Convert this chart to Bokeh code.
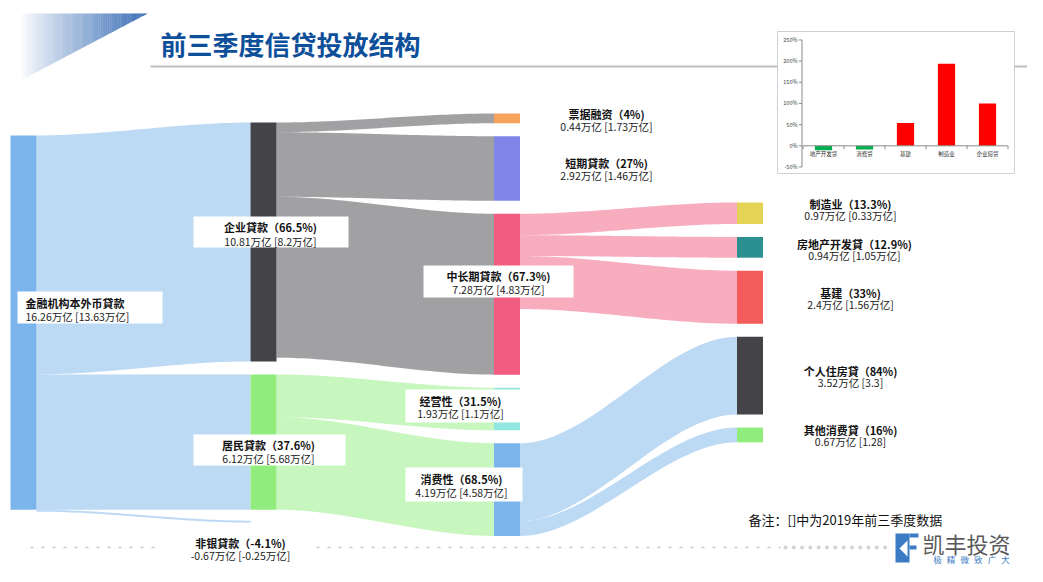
import numpy as np
from bokeh.plotting import figure
from bokeh.models import Range1d
from bokeh.core.properties import value
from bokeh.embed import file_html
from bokeh.resources import INLINE

# ---------------- data ----------------
title = "前三季度信贷投放结构"
note = "备注：[]中为2019年前三季度数据"

src_name = "金融机构本外币貸款"
src_amt = 16.26
src_prev = 13.63

lvl1_names = ["企业貸款", "居民貸款"]
lvl1_amt = [10.81, 6.12]
lvl1_prev = [8.2, 5.68]
lvl1_pct = ["66.5%", "37.6%"]

nonbank_name = "非银貸款"
nonbank_amt = -0.67
nonbank_prev = -0.25
nonbank_pct = "-4.1%"

corp_names = ["票据融资", "短期貸款", "中长期貸款"]
corp_amt = [0.44, 2.92, 7.28]
corp_prev = [1.73, 1.46, 4.83]
corp_pct = ["4%", "27%", "67.3%"]

hh_names = ["经营性", "消费性"]
hh_amt = [1.93, 4.19]
hh_prev = [1.1, 4.58]
hh_pct = ["31.5%", "68.5%"]

mlt_names = ["制造业", "房地产开发貸", "基建"]
mlt_amt = [0.97, 0.94, 2.4]
mlt_prev = [0.33, 1.05, 1.56]
mlt_pct = ["13.3%", "12.9%", "33%"]

cons_names = ["个人住房貸", "其他消费貸"]
cons_amt = [3.52, 0.67]
cons_prev = [3.3, 1.28]
cons_pct = ["84%", "16%"]

growth_cats = ["地产开发贷", "消费贷", "基建", "制造业", "企业短贷"]
growth_vals = [-10.5, -8.5, 53.8, 193.9, 100.0]
growth_ticks = [-50, 0, 50, 100, 150, 200, 250]
growth_tick_labels = ["-50%", "0%", "50%", "100%", "150%", "200%", "250%"]

logo_name = "凯丰投资"
logo_motto = ["极", "精", "微", "致", "广", "大"]

node_colors = {
    src_name: "#7cb5ec", "企业貸款": "#434348", "居民貸款": "#90ed7d",
    "票据融资": "#f7a35c", "短期貸款": "#8085e9", "中长期貸款": "#f15c80",
    "制造业": "#e4d354", "房地产开发貸": "#2b908f", "基建": "#f45b5b",
    "经营性": "#91e8e1", "消费性": "#7cb5ec",
    "个人住房貸": "#434348", "其他消费貸": "#90ed7d",
}

# ---------------- figure ----------------
W, H = 1027, 566
OX, OY = 0, 0
p = figure(width=W, height=H, x_range=Range1d(OX, OX + W), y_range=Range1d(OY + H, OY),
           output_backend="svg", toolbar_location=None,
           x_axis_type=None, y_axis_type=None, min_border=0)
p.outline_line_color = None
p.background_fill_color = "white"
p.border_fill_color = "white"
p.xgrid.visible = False
p.ygrid.visible = False

FONT = value("Noto Sans CJK SC")

# ---- header decoration ----
xs_strips, ys_strips, cols = [], [], []
N = 70
x_l, x_r, y_t, y_b = 20.0, 147.0, 13.0, 80.0
edges = np.linspace(x_l, x_r, N + 1)
for i in range(N):
    xa, xb = edges[i], edges[i + 1]
    ya = y_t + (x_r - xa) / (x_r - x_l) * (y_b - y_t)
    yb = y_t + (x_r - xb) / (x_r - x_l) * (y_b - y_t)
    xs_strips.append([xa, xb + 0.3, xb + 0.3, xa])
    ys_strips.append([y_t, y_t, yb, ya])
    f = ((xa + xb) / 2 - x_l) / (x_r - x_l)
    f = f ** 0.9
    r = int(255 + (58 - 255) * f)
    g = int(255 + (110 - 255) * f)
    b = int(255 + (182 - 255) * f)
    cols.append("#%02x%02x%02x" % (r, g, b))
p.patches(xs=xs_strips, ys=ys_strips, fill_color=cols, line_color=None)

p.line(x=[150, 1030], y=[66, 66], line_color="#bfbfbf", line_width=2)
p.text(x=[160], y=[43], text=[title], text_font=FONT, text_font_size="26px",
       text_font_style="bold", text_color="#0e4f9a", text_align="left", text_baseline="middle")

# ---------------- sankey layout ----------------
S = 22.1        # px per 万亿
PAD = 13
NW = 26
col_x = [10, 250, 493.5, 736.5]
nodes = {}

def add_col(names, vals, x, top):
    y = top
    for n, v in zip(names, vals):
        nodes[n] = dict(x=x, top=y, h=v * S, out=0.0, inn=0.0)
        y += v * S + PAD

add_col([src_name], [sum(lvl1_amt)], col_x[0], 135)
add_col(lvl1_names, lvl1_amt, col_x[1], 122)
add_col(corp_names + hh_names, corp_amt + hh_amt, col_x[2], 113)
add_col(mlt_names + cons_names, mlt_amt + cons_amt, col_x[3], 202)

links = []
for n, v in zip(lvl1_names, lvl1_amt):
    links.append((src_name, n, v))
for n, v in zip(corp_names, corp_amt):
    links.append(("企业貸款", n, v))
for n, v in zip(hh_names, hh_amt):
    links.append(("居民貸款", n, v))
for n, v in zip(mlt_names, mlt_amt):
    links.append(("中长期貸款", n, v))
for n, v in zip(cons_names, cons_amt):
    links.append(("消费性", n, v))

t = np.linspace(0, 1, 50)

def bez(x0, y0, x1, y1):
    c = (x1 - x0) * 0.33
    px = [x0, x0 + c, x1 - c, x1]
    py = [y0, y0, y1, y1]
    bx = (1 - t) ** 3 * px[0] + 3 * (1 - t) ** 2 * t * px[1] + 3 * (1 - t) * t ** 2 * px[2] + t ** 3 * px[3]
    by = (1 - t) ** 3 * py[0] + 3 * (1 - t) ** 2 * t * py[1] + 3 * (1 - t) * t ** 2 * py[2] + t ** 3 * py[3]
    return bx, by

def band(x0, y0a, y0b, x1, y1a, y1b):
    tx, ty = bez(x0, y0a, x1, y1a)
    bx, by = bez(x0, y0b, x1, y1b)
    return list(tx) + list(bx[::-1]), list(ty) + list(by[::-1])

lxs, lys, lcols = [], [], []
for a, b, v in links:
    na, nb = nodes[a], nodes[b]
    w = v * S
    y0 = na["top"] + na["out"]
    y1 = nb["top"] + nb["inn"]
    na["out"] += w
    nb["inn"] += w
    xx, yy = band(na["x"] + NW, y0, y0 + w, nb["x"], y1, y1 + w)
    lxs.append(xx); lys.append(yy); lcols.append(node_colors[a])

# non-bank (negative) link, drawn as a thin band
ns = nodes[src_name]
y0 = ns["top"] + ns["out"]
nb_y = nodes["居民貸款"]["top"] + nodes["居民貸款"]["h"] + 11
xx, yy = band(ns["x"] + NW, y0, y0 + 2, col_x[1], nb_y, nb_y + 2)
lxs.append(xx); lys.append(yy); lcols.append(node_colors[src_name])

p.patches(xs=lxs, ys=lys, fill_color=lcols, fill_alpha=0.5, line_color=None)

nn = list(nodes.keys())
p.quad(left=[nodes[n]["x"] for n in nn], right=[nodes[n]["x"] + NW for n in nn],
       top=[nodes[n]["top"] for n in nn], bottom=[nodes[n]["top"] + nodes[n]["h"] for n in nn],
       fill_color=[node_colors[n] for n in nn], line_color=None)

# ---------------- labels ----------------
def fmt(v):
    return ("%g" % v)

labels = []  # (line1, line2, cx, y1, y2, align, box)
labels.append((src_name, f"{fmt(src_amt)}万亿 [{fmt(src_prev)}万亿]", 25, 302.5, 315.5, "left", (17, 162, 291, 323)))
lvl1_pos = [(270, 226.5, 240.5, (193, 348, 216, 247)), (268, 444.5, 458, (193, 345, 434, 465))]
for n, a, pv, pc, pos in zip(lvl1_names, lvl1_amt, lvl1_prev, lvl1_pct, lvl1_pos):
    labels.append((f"{n}（{pc})", f"{fmt(a)}万亿 [{fmt(pv)}万亿]", pos[0], pos[1], pos[2], "center", pos[3]))
labels.append((f"{nonbank_name}（{nonbank_pct})", f"{fmt(nonbank_amt)}万亿 [{fmt(nonbank_prev)}万亿]", 240, 542.5, 555, "center", None))
corp_pos = [(606, 113, 126, None), (606, 162, 175, None), (498, 275.5, 289, (423, 573, 265, 297))]
for n, a, pv, pc, pos in zip(corp_names, corp_amt, corp_prev, corp_pct, corp_pos):
    labels.append((f"{n}（{pc})", f"{fmt(a)}万亿 [{fmt(pv)}万亿]", pos[0], pos[1], pos[2], "center", pos[3]))
hh_pos = [(460, 400, 413, (405, 520, 389, 422)), (461, 478, 491.5, (405, 522, 467, 501))]
for n, a, pv, pc, pos in zip(hh_names, hh_amt, hh_prev, hh_pct, hh_pos):
    labels.append((f"{n}（{pc})", f"{fmt(a)}万亿 [{fmt(pv)}万亿]", pos[0], pos[1], pos[2], "center", pos[3]))
mlt_pos = [(850, 203, 215), (854, 243, 255), (850, 292, 304)]
for n, a, pv, pc, pos in zip(mlt_names, mlt_amt, mlt_prev, mlt_pct, mlt_pos):
    labels.append((f"{n}（{pc})", f"{fmt(a)}万亿 [{fmt(pv)}万亿]", pos[0], pos[1], pos[2], "center", None))
cons_pos = [(850, 370, 382), (850, 429, 441)]
for n, a, pv, pc, pos in zip(cons_names, cons_amt, cons_prev, cons_pct, cons_pos):
    labels.append((f"{n}（{pc})", f"{fmt(a)}万亿 [{fmt(pv)}]", pos[0], pos[1], pos[2], "center", None))

boxes = [l[6] for l in labels if l[6] is not None]
p.quad(left=[b[0] for b in boxes], right=[b[1] for b in boxes], bottom=[b[3] for b in boxes],
       top=[b[2] for b in boxes], fill_color="white", line_color=None)

for align in ("left", "center"):
    sub = [l for l in labels if l[5] == align]
    p.text(x=[l[2] for l in sub], y=[l[3] for l in sub], text=[l[0] for l in sub],
           text_font=FONT, text_font_size="11px", text_font_style="bold", text_color="#111111",
           text_align=align, text_baseline="middle")
    p.text(x=[l[2] for l in sub], y=[l[4] for l in sub], text=[l[1] for l in sub],
           text_font=FONT, text_font_size="10.5px", text_color="#222222",
           text_align=align, text_baseline="middle")

# ---------------- inset bar chart ----------------
p.quad(left=[777], right=[1014], top=[31], bottom=[173], fill_color="white",
       line_color="#d0d0d0", line_width=1)

cat0_x, cat_dx = 823.0, 41.0
zero_y, per_pct = 145.3, 0.4233
p.extra_x_ranges = {"ix": Range1d((OX - cat0_x) / cat_dx, (OX + W - cat0_x) / cat_dx)}
p.extra_y_ranges = {"iy": Range1d((zero_y - (OY + H)) / per_pct, (zero_y - OY) / per_pct)}

idx = list(range(len(growth_cats)))
bar_cols = ["#00b050" if v < 0 else "#ff0000" for v in growth_vals]
p.vbar(x=idx, top=growth_vals, bottom=0, width=0.42, fill_color=bar_cols, line_color=None,
       x_range_name="ix", y_range_name="iy")

# axes of the inset
p.segment(x0=[-0.5], x1=[len(growth_cats) - 0.5], y0=[0], y1=[0], line_color="#8a8a8a",
          line_width=1, x_range_name="ix", y_range_name="iy")
bnd = [i - 0.5 for i in range(len(growth_cats) + 1)]
p.segment(x0=bnd, x1=bnd, y0=[0] * len(bnd), y1=[-8] * len(bnd), line_color="#8a8a8a",
          line_width=1, x_range_name="ix", y_range_name="iy")
p.segment(x0=[801.5], x1=[801.5], y0=[min(growth_ticks)], y1=[max(growth_ticks)],
          line_color="#8a8a8a", line_width=1, y_range_name="iy")
p.segment(x0=[798.5] * len(growth_ticks), x1=[801.5] * len(growth_ticks), y0=growth_ticks,
          y1=growth_ticks, line_color="#8a8a8a", line_width=1, y_range_name="iy")
p.text(x=[797] * len(growth_ticks), y=growth_ticks, text=growth_tick_labels, text_font=FONT,
       text_font_size="5.5px", text_color="#404040", text_align="right", text_baseline="middle",
       y_range_name="iy")
p.text(x=idx, y=[153.5] * len(idx), text=growth_cats, text_font=FONT, text_font_size="5.5px",
       text_color="#303030", text_align="center", text_baseline="middle", x_range_name="ix")

# ---------------- footer ----------------
p.line(x=[30, 160], y=[547, 547], line_color="#c8c8c8", line_width=1.5, line_dash="3 8")
p.line(x=[316, 780], y=[547, 547], line_color="#c8c8c8", line_width=1.5, line_dash="3 8")
dots = np.arange(785, 885, 8.3)
p.scatter(x=dots, y=[547] * len(dots), size=4, fill_color="#d4d4d4", line_color=None)

p.text(x=[748], y=[519], text=[note], text_font=FONT, text_font_size="13px",
       text_color="#111111", text_align="left", text_baseline="middle")

# logo
p.quad(left=[895], right=[909], top=[533], bottom=[562], fill_color="#3b7cc4", line_color=None)
p.patch(x=[899, 907, 907], y=[548, 540, 556], fill_color="white", line_color=None)
p.quad(left=[909, 909], right=[918, 916], top=[533, 545], bottom=[537, 549],
       fill_color="#3b7cc4", line_color=None)
p.text(x=[922], y=[542], text=[logo_name], text_font=FONT, text_font_size="22px",
       text_color="#595959", text_align="left", text_baseline="middle")
mx = list(np.linspace(937, 1005, len(logo_motto)))
p.text(x=mx, y=[558] * len(logo_motto), text=logo_motto, text_font=FONT, text_font_size="8.5px",
       text_color="#3b7cc4", text_align="center", text_baseline="middle")

open("out.html", "w").write(file_html(p, INLINE))
